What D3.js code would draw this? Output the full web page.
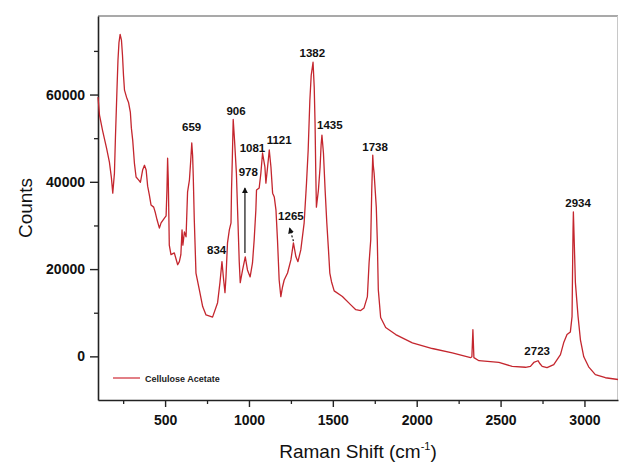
<!DOCTYPE html>
<meta charset="utf-8">
<html>
<head>
<script src="https://d3js.org/d3.v7.min.js"></script>
<style>
  body { margin: 0; background: #fff; }
  text { font-family: Arial, "Liberation Sans", sans-serif; }
</style>
</head>
<body>
<div id="viz"></div>
<script>
// spectrum
const ramanShift = [100,109,127,151,168,180,188,198,204,213,219,225,232,240,246,252,258,270,282,293,299,307,317,327,343,353,366,377,387,396,406,416,432,442,452,466,476,496,506,511,515,519,525,535,555,575,585,594,601,606,615,625,634,645,653,659,664,668,674,684,704,724,744,783,813,827,839,849,857,863,872,883,893,896,901,906,914,925,934,942,948,962,978,991,1007,1021,1031,1041,1045,1061,1071,1081,1095,1101,1111,1118,1121,1131,1141,1151,1161,1170,1180,1190,1200,1210,1230,1250,1265,1280,1292,1309,1329,1343,1353,1363,1371,1382,1389,1394,1398,1402,1414,1424,1430,1435,1444,1454,1464,1474,1482,1492,1508,1557,1607,1637,1666,1686,1706,1716,1726,1732,1738,1741,1746,1759,1765,1771,1785,1815,1875,1974,2093,2212,2321,2329,2335,2341,2371,2490,2569,2649,2678,2698,2723,2735,2748,2777,2817,2857,2876,2896,2916,2926,2930,2932,2934,2940,2946,2962,2976,2996,3025,3065,3125,3200];
const counts = [59400,55300,51800,47700,44500,40900,37400,42000,50200,61000,67800,71900,73800,72400,69000,64400,61000,59400,58200,55900,52300,49500,44300,41100,40400,39900,42700,43800,42700,39000,37000,34700,34200,32900,31300,29400,30600,31700,32200,38100,45400,40400,25500,23300,23700,21000,21700,23300,29000,25500,28500,27400,37700,40400,45000,48900,46100,41100,31300,19100,15300,11400,9500,9000,12300,16900,21700,17500,14600,18200,26000,29000,30600,38100,45700,54300,49500,42000,31300,21700,16900,19800,22800,19800,18200,21400,26700,33500,38100,38600,42000,46600,43400,39700,43400,46100,47300,43400,37400,36500,33500,26700,17500,13700,15900,17500,19100,22100,26000,22800,21700,24400,30600,39700,47300,58700,64400,67400,61700,53400,42700,34200,38100,43400,48400,50700,46600,38100,30600,24400,19100,17100,15000,13700,11800,10700,10500,11100,13700,21400,26700,38100,46100,43800,42000,34200,26700,15300,8900,6600,5000,3100,1800,800,-300,-100,6100,-300,-1000,-1400,-2300,-2500,-2300,-1400,-1000,-1700,-2300,-2600,-1900,400,3100,5000,5600,9100,22800,29000,33100,25100,16900,9100,3800,-100,-2400,-4200,-4900,-5300];

// peak labels: text, shift, counts at baseline
const peakText = ["659","906","978","1081","1121","834","1265","1382","1435","1738","2934","2723"];
const peakShift = [658,923,996,1021,1180,807,1250,1378,1482,1752,2962,2718];
const peakCounts = [51600,55300,41300,46800,48600,23500,31300,68700,52100,47000,34200,200];

// arrows: [from shift, from counts, to shift, to counts]
const arrows = [[976,23700,976,38500],[1265,26400,1243,29300]];

const xMajor = [500,1000,1500,2000,2500,3000];
const xMinor = [250,750,1250,1750,2250,2750];
const yMajor = [0,20000,40000,60000];
const yMinor = [10000,30000,50000,70000];

const seriesName = "Cellulose Acetate";

const W = 619, H = 463;
const margin = {top: 16, right: 1, bottom: 63, left: 98};
const lineColor = "#c4262e";

const svg = d3.select("#viz").append("svg")
  .attr("width", W).attr("height", H);

const x = d3.scaleLinear().domain([100, 3200]).range([margin.left, W - margin.right]);
const y = d3.scaleLinear().domain([-10000, 78000]).range([H - margin.bottom, margin.top]);

// frame top / right
svg.append("line").attr("x1", margin.left).attr("x2", W - margin.right)
  .attr("y1", margin.top).attr("y2", margin.top)
  .attr("stroke", "#555").attr("stroke-width", 1.2);
svg.append("line").attr("x1", W - margin.right - 0.5).attr("x2", W - margin.right - 0.5)
  .attr("y1", margin.top).attr("y2", H - margin.bottom)
  .attr("stroke", "#c8c8c8").attr("stroke-width", 1);

// minor ticks
svg.append("g").attr("transform", `translate(0,${H - margin.bottom})`)
  .call(d3.axisBottom(x).tickValues(xMinor).tickSize(4).tickFormat(""))
  .call(g => g.select(".domain").remove())
  .selectAll("line").attr("stroke", "#222").attr("stroke-width", 1.3);
svg.append("g").attr("transform", `translate(${margin.left},0)`)
  .call(d3.axisLeft(y).tickValues(yMinor).tickSize(4).tickFormat(""))
  .call(g => g.select(".domain").remove())
  .selectAll("line").attr("stroke", "#222").attr("stroke-width", 1.3);

// major axes
const xAxis = svg.append("g").attr("transform", `translate(0,${H - margin.bottom})`)
  .call(d3.axisBottom(x).tickValues(xMajor).tickSize(7).tickPadding(8).tickSizeOuter(0).tickFormat(d3.format("d")));
const yAxis = svg.append("g").attr("transform", `translate(${margin.left},0)`)
  .call(d3.axisLeft(y).tickValues(yMajor).tickSize(8).tickPadding(5).tickSizeOuter(0).tickFormat(d3.format("d")));

[xAxis, yAxis].forEach(a => {
  a.select(".domain").attr("stroke", "#222").attr("stroke-width", 1.6);
  a.selectAll(".tick line").attr("stroke", "#222").attr("stroke-width", 1.4);
  a.selectAll(".tick text").attr("fill", "#111")
    .style("font-size", "14px").style("font-weight", "bold");
});

// spectrum
const pts = ramanShift.map((s, i) => [s, counts[i]]);
const line = d3.line().x(d => x(d[0])).y(d => y(d[1]));
svg.append("path").datum(pts)
  .attr("fill", "none").attr("stroke", lineColor)
  .attr("stroke-width", 1.3).attr("stroke-linejoin", "round")
  .attr("d", line);

// arrows
svg.append("defs").append("marker")
  .attr("id", "head").attr("viewBox", "0 0 10 10")
  .attr("refX", 8).attr("refY", 5)
  .attr("markerWidth", 5).attr("markerHeight", 6)
  .attr("orient", "auto")
  .append("path").attr("d", "M0,0L10,5L0,10z").attr("fill", "#111");

svg.selectAll(".arrow").data(arrows).join("line")
  .attr("class", "arrow")
  .attr("x1", d => x(d[0])).attr("y1", d => y(d[1]))
  .attr("x2", d => x(d[2])).attr("y2", d => y(d[3]))
  .attr("stroke", "#111").attr("stroke-width", 1.2)
  .attr("stroke-dasharray", (d, i) => i === 1 ? "2,2" : null)
  .attr("marker-end", "url(#head)");

// peak labels
svg.selectAll(".peak").data(peakText).join("text")
  .attr("class", "peak")
  .attr("x", (d, i) => x(peakShift[i]))
  .attr("y", (d, i) => y(peakCounts[i]))
  .attr("text-anchor", "middle")
  .style("font-size", "11.5px").style("font-weight", "bold")
  .attr("fill", "#111")
  .text(d => d);

// legend
svg.append("line").attr("x1", 113).attr("x2", 140).attr("y1", 378).attr("y2", 378)
  .attr("stroke", "#d23a44").attr("stroke-width", 1.3);
svg.append("text").attr("x", 145).attr("y", 381.5)
  .style("font-size", "9px").style("font-weight", "bold").attr("fill", "#222")
  .text(seriesName);

// axis titles
svg.append("text")
  .attr("transform", `translate(32,${(margin.top + H - margin.bottom) / 2}) rotate(-90)`)
  .attr("text-anchor", "middle")
  .style("font-size", "19px").attr("fill", "#111")
  .text("Counts");

const xt = svg.append("text")
  .attr("x", (margin.left + W - margin.right) / 2).attr("y", 458)
  .attr("text-anchor", "middle")
  .style("font-size", "19px").attr("fill", "#111");
xt.append("tspan").text("Raman Shift (cm");
xt.append("tspan").attr("dy", -8).style("font-size", "11px").text("-1");
xt.append("tspan").attr("dy", 8).text(")");
</script>
</body>
</html>
